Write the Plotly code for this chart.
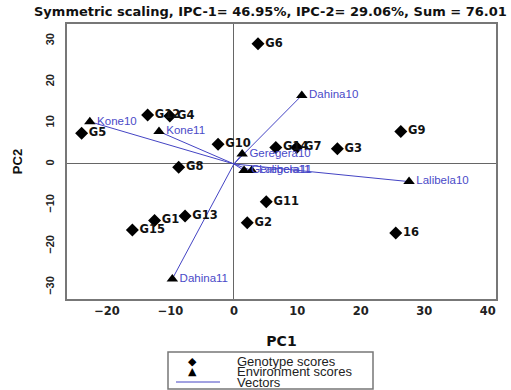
import plotly.graph_objects as go

# ---- data ----
geno_names = ["G1", "G2", "G3", "G4", "G5", "G6", "G7", "G8", "G9", "G10",
              "G11", "G12", "G13", "G14", "G15", "16"]
geno_pc1 = [-12.5, 2.1, 16.3, -10.1, -24.0, 3.8, 9.9, -8.7, 26.3, -2.5,
            5.1, -13.6, -7.7, 6.6, -16.0, 25.5]
geno_pc2 = [-13.8, -14.3, 3.7, 11.7, 7.5, 29.3, 4.0, -0.8, 7.9, 4.8,
            -9.2, 11.9, -12.7, 4.0, -16.1, -16.8]

env_names = ["Dahina10", "Dahina11", "Geregera10", "Geregera11",
             "Kone10", "Kone11", "Lalibela10", "Lalibela11"]
env_pc1 = [10.7, -9.7, 1.3, 1.6, -22.7, -11.8, 27.6, 2.8]
env_pc2 = [16.7, -28.0, 2.4, -1.6, 10.3, 7.9, -4.3, -1.6]

x_ticks = [-20, -10, 0, 10, 20, 30, 40]
y_ticks = [-30, -20, -10, 0, 10, 20, 30]

title_text = "Symmetric scaling, IPC-1= 46.95%, IPC-2= 29.06%, Sum = 76.01"
legend_labels = ["Genotype scores", "Environment scores", "Vectors"]

# ---- style ----
FONT = "Liberation Sans, Arial, sans-serif"
WIDE = "DejaVu Sans, sans-serif"
VEC = "#4444c4"
ENV_TXT = "#4a4ac8"
W, H = 511, 390
ML, MR, MT, MB = 67, 15, 24, 91
PW, PH = W - ML - MR, H - MT - MB


def px(xp):
    return (xp - ML) / PW


def py(yp):
    return 1 - (yp - MT) / PH


fig = go.Figure()

# vectors
for nm, x, y in zip(env_names, env_pc1, env_pc2):
    fig.add_trace(go.Scatter(x=[0, x], y=[0, y], mode="lines",
                             line=dict(color=VEC, width=1),
                             hoverinfo="skip", showlegend=False))

fig.add_trace(go.Scatter(
    x=geno_pc1, y=geno_pc2, mode="markers+text", text=geno_names,
    textposition="middle right",
    textfont=dict(family=WIDE, size=11.5, color="#111", weight="bold"),
    marker=dict(symbol="diamond", size=10, color="black"),
    showlegend=False))

fig.add_trace(go.Scatter(
    x=env_pc1, y=env_pc2, mode="markers+text", text=env_names,
    textposition="middle right",
    textfont=dict(family=FONT, size=11.5, color=ENV_TXT),
    marker=dict(symbol="triangle-up", size=10, color="black"),
    showlegend=False))

fig.update_xaxes(range=[-26.3, 41.3], tickvals=x_ticks, ticks="",
                 showgrid=False, zeroline=True, zerolinecolor="#666",
                 zerolinewidth=1, showline=True, mirror=True,
                 linecolor="#777", linewidth=1.5,
                 tickfont=dict(family=WIDE, size=11.5, color="#222", weight="bold"),
                 title=dict(text="PC1", font=dict(family=WIDE, size=14,
                                                   color="#111", weight="bold"),
                            standoff=20))
fig.update_yaxes(range=[-32.9, 34.1], tickvals=y_ticks, ticks="",
                 showgrid=False, zeroline=True, zerolinecolor="#666",
                 zerolinewidth=1, showline=True, mirror=True,
                 linecolor="#777", linewidth=1.5, tickangle=-90,
                 ticklabelstandoff=7,
                 tickfont=dict(family=FONT, size=11, color="#222", weight="bold"),
                 title=dict(text="PC2", font=dict(family=FONT, size=13,
                                                   color="#111", weight="bold"),
                            standoff=18))

annotations = [
    dict(text=title_text, x=px(32), y=py(12), xref="paper", yref="paper",
         xanchor="left", yanchor="middle", showarrow=False,
         font=dict(family=WIDE, size=13, color="#111", weight="bold")),
]

# custom legend
rows = [361, 371.5, 382]
syms = ["\u25C6", "\u25B2", None]
for lab, yy, s in zip(legend_labels, rows, syms):
    annotations.append(dict(text=lab, x=px(235), y=py(yy), xref="paper",
                            yref="paper", xanchor="left", yanchor="middle",
                            showarrow=False,
                            font=dict(family=FONT, size=13, color="#222")))
    if s:
        annotations.append(dict(text=s, x=px(192), y=py(yy), xref="paper",
                                yref="paper", xanchor="center",
                                yanchor="middle", showarrow=False,
                                font=dict(family="DejaVu Sans", size=11,
                                          color="black")))

shapes = [
    dict(type="rect", xref="paper", yref="paper", x0=px(168), x1=px(373),
         y0=py(352), y1=py(389), line=dict(color="#777", width=1.5)),
    dict(type="line", xref="paper", yref="paper", x0=px(176), x1=px(220),
         y0=py(382), y1=py(382), line=dict(color=VEC, width=1)),
]

fig.update_layout(width=W, height=H, margin=dict(l=ML, r=MR, t=MT, b=MB),
                  paper_bgcolor="white", plot_bgcolor="white",
                  annotations=annotations, shapes=shapes)

fig.write_html("out.html", config={"displayModeBar": False},
               post_script="document.body.style.margin='0';"
                           "document.body.style.overflow='hidden';")
